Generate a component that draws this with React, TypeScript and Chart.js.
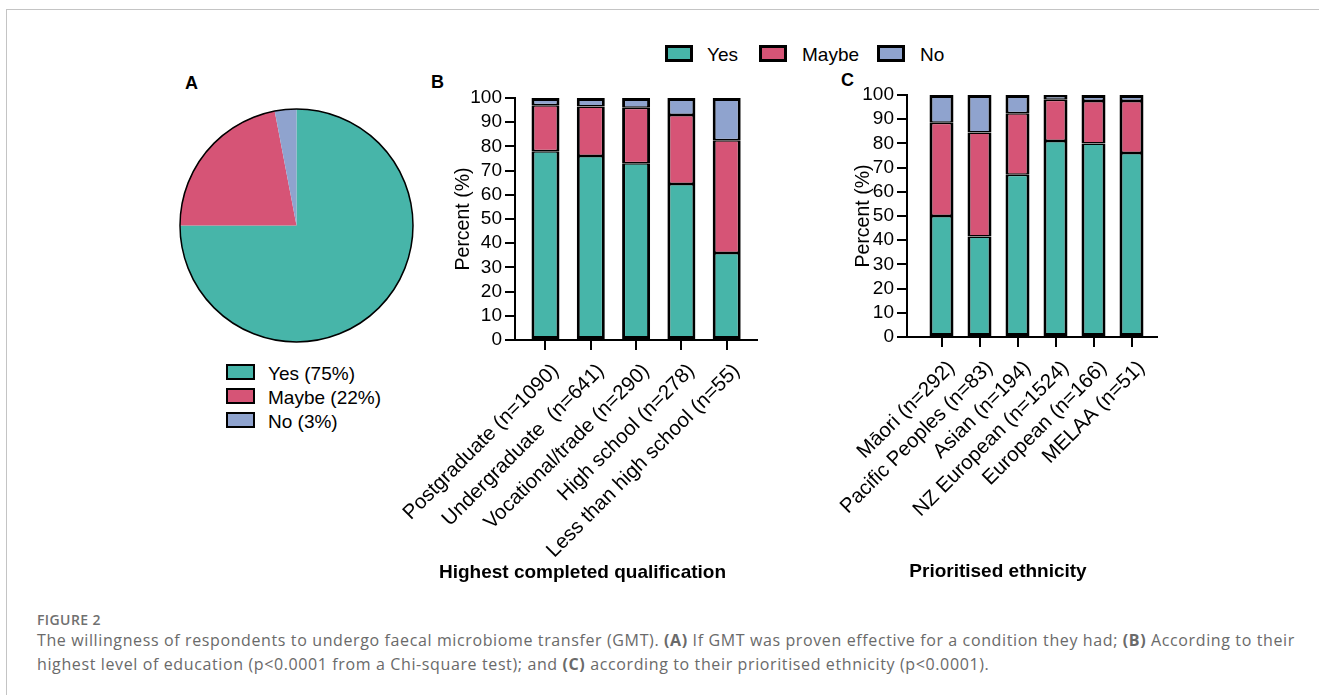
import React, { useEffect, useRef } from "react";
import { Chart, registerables } from "chart.js";

Chart.register(...registerables);

// ---------------- data ----------------
const seriesNames = ["Yes", "Maybe", "No"];

const overallValues = [75, 22, 3];
const overallLegend = ["Yes (75%)", "Maybe (22%)", "No (3%)"];

const educationLabels = [
  "Postgraduate (n=1090)",
  "Undergraduate  (n=641)",
  "Vocational/trade (n=290)",
  "High school (n=278)",
  "Less than high school (n=55)",
];
const educationYes = [78, 76, 73, 64.5, 36];
const educationMaybe = [19, 20.5, 23, 28.5, 46.5];
const educationNo = [3, 3.5, 4, 7, 17.5];

const ethnicityLabels = [
  "Māori (n=292)",
  "Pacific Peoples (n=83)",
  "Asian (n=194)",
  "NZ European (n=1524)",
  "European (n=166)",
  "MELAA (n=51)",
];
const ethnicityYes = [50, 41.5, 67, 81, 80, 76];
const ethnicityMaybe = [38.5, 43, 25.5, 17, 17.5, 21.5];
const ethnicityNo = [11.5, 15.5, 7.5, 2, 2.5, 2.5];

const percentMin = 0;
const percentMax = 100;
const percentStep = 10;

// ---------------- styles ----------------
const FONT = "'Liberation Sans', Arial, Helvetica, sans-serif";
const COLORS = ["#47B5A9", "#D65476", "#8FA3CE"];

Chart.defaults.font.family = FONT;
Chart.defaults.color = "#000";

type BarPanelProps = {
  labels: string[];
  yes: number[];
  maybe: number[];
  no: number[];
  title: string;
  left: number;
  top: number;
  width: number;
  height: number;
  padL: number;
  padR: number;
  padT: number;
  padB: number;
  yWidth: number;
  yTitlePad: number;
  xHeight: number;
  xMin: number;
  xMax: number;
  titlePadTop: number;
  barThickness: number;
};

function BarPanel(p: BarPanelProps) {
  const ref = useRef<HTMLCanvasElement | null>(null);
  useEffect(() => {
    if (!ref.current) return;
    const idx = p.labels.map((_, i) => i);
    const series = [p.yes, p.maybe, p.no];
    const borders = [
      { top: 1.5, bottom: 3, left: 3, right: 3 },
      { top: 1.5, bottom: 1.5, left: 3, right: 3 },
      { top: 3, bottom: 1.5, left: 3, right: 3 },
    ];
    const datasets = series.map((vals, s) => ({
      label: seriesNames[s],
      data: idx.map((i) => ({ x: i, y: vals[i] })),
      backgroundColor: COLORS[s],
      borderColor: "#000",
      borderWidth: borders[s],
      borderSkipped: false,
      barThickness: p.barThickness,
      inflateAmount: 0,
      clip: false,
    }));
    const axisGrid = {
      display: true,
      offset: false,
      drawOnChartArea: false,
      drawTicks: true,
      tickLength: 10,
      tickWidth: 2,
      tickColor: "#000",
      color: "#000",
      lineWidth: 2,
    };
    const chart = new Chart(ref.current, {
      type: "bar",
      data: { datasets } as any,
      options: {
        animation: false,
        responsive: false,
        maintainAspectRatio: false,
        events: [],
        layout: { padding: { left: p.padL, right: p.padR, top: p.padT, bottom: p.padB } },
        plugins: {
          legend: { display: false },
          tooltip: { enabled: false },
          title: {
            display: true,
            text: p.title,
            position: "bottom",
            color: "#000",
            font: { family: FONT, size: 19, weight: "bold", lineHeight: 1.2 },
            padding: { top: p.titlePadTop, bottom: 0 },
          },
        },
        scales: {
          x: {
            type: "linear",
            stacked: true,
            min: p.xMin,
            max: p.xMax,
            bounds: "data",
            offset: false,
            grid: axisGrid,
            border: { display: true, color: "#000", width: 2 },
            afterBuildTicks: (s: any) => {
              s.ticks = idx.map((i) => ({ value: i }));
            },
            ticks: {
              autoSkip: false,
              minRotation: 45,
              maxRotation: 45,
              padding: 9,
              labelOffset: 10,
              color: "#000",
              font: { family: FONT, size: 20.5, lineHeight: 1.2 },
              callback: (v: any) => {
                const n = Math.round(Number(v));
                return p.labels[n] !== undefined ? p.labels[n] : "";
              },
            },
            afterFit: (s: any) => {
              s.height = p.xHeight;
            },
          },
          y: {
            type: "linear",
            stacked: true,
            min: percentMin,
            max: percentMax,
            grid: axisGrid,
            border: { display: true, color: "#000", width: 2 },
            ticks: {
              stepSize: percentStep,
              autoSkip: false,
              maxTicksLimit: 20,
              padding: 3,
              color: "#000",
              font: { family: FONT, size: 19, lineHeight: 1 },
            },
            title: {
              display: true,
              text: "Percent (%)",
              color: "#000",
              font: { family: FONT, size: 19.5, lineHeight: 1.2 },
              padding: { top: p.yTitlePad, bottom: 0 },
            },
            afterFit: (s: any) => {
              s.width = p.yWidth;
            },
          },
        },
      } as any,
    });
    return () => chart.destroy();
  }, []);
  return (
    <canvas
      ref={ref}
      width={p.width}
      height={p.height}
      style={{ position: "absolute", left: p.left, top: p.top, width: p.width, height: p.height }}
    />
  );
}

const pieOutline = {
  id: "pieOutline",
  afterDatasetsDraw(chart: any) {
    const meta = chart.getDatasetMeta(0);
    const arc = meta.data[0];
    if (!arc) return;
    const ctx = chart.ctx;
    ctx.save();
    ctx.beginPath();
    ctx.arc(arc.x, arc.y, arc.outerRadius, 0, Math.PI * 2);
    ctx.lineWidth = 1.5;
    ctx.strokeStyle = "#000";
    ctx.stroke();
    ctx.restore();
  },
};

function PiePanel() {
  const ref = useRef<HTMLCanvasElement | null>(null);
  useEffect(() => {
    if (!ref.current) return;
    const chart = new Chart(ref.current, {
      type: "pie",
      data: {
        labels: seriesNames,
        datasets: [
          {
            data: overallValues,
            backgroundColor: COLORS,
            borderWidth: 0,
            hoverBorderWidth: 0,
            hoverOffset: 0,
            offset: 0,
          },
        ],
      },
      options: {
        animation: false,
        responsive: false,
        maintainAspectRatio: false,
        events: [],
        layout: { padding: 10 },
        plugins: { legend: { display: false }, tooltip: { enabled: false } },
      } as any,
      plugins: [pieOutline],
    });
    return () => chart.destroy();
  }, []);
  return (
    <canvas
      ref={ref}
      width={253}
      height={253}
      style={{ position: "absolute", left: 170, top: 99, width: 253, height: 253 }}
    />
  );
}

const textBase: React.CSSProperties = {
  position: "absolute",
  fontFamily: FONT,
  color: "#000",
  whiteSpace: "nowrap",
  lineHeight: 1,
};

function LegendBox({ x, y, w, h, bw, color }: { x: number; y: number; w: number; h: number; bw: number; color: string }) {
  return (
    <div
      style={{
        position: "absolute",
        left: x,
        top: y,
        width: w,
        height: h,
        boxSizing: "border-box",
        border: `${bw}px solid #000`,
        background: color,
      }}
    />
  );
}

export default function App() {
  const topLegendBoxes = [665, 759, 877];
  const topLegendText = [707, 802, 920];
  const pieRowsTop = [364, 388, 412];
  return (
    <div
      style={{
        position: "absolute",
        left: 0,
        top: 0,
        width: 1319,
        height: 695,
        background: "#fff",
        overflow: "hidden",
      }}
    >
      <div
        style={{
          position: "absolute",
          left: 6,
          top: 9,
          width: 1400,
          height: 800,
          borderLeft: "1px solid #c4c4c4",
          borderTop: "1px solid #c4c4c4",
        }}
      />

      {/* panel letters */}
      <div style={{ ...textBase, left: 185, top: 74, fontSize: 18, fontWeight: "bold" }}>A</div>
      <div style={{ ...textBase, left: 431, top: 72.5, fontSize: 18, fontWeight: "bold" }}>B</div>
      <div style={{ ...textBase, left: 841, top: 70.5, fontSize: 18, fontWeight: "bold" }}>C</div>

      {/* top legend */}
      {seriesNames.map((name, i) => (
        <React.Fragment key={name}>
          <LegendBox x={topLegendBoxes[i]} y={45} w={28} h={17} bw={3} color={COLORS[i]} />
          <div style={{ ...textBase, left: topLegendText[i], top: 44.5, fontSize: 19 }}>{name}</div>
        </React.Fragment>
      ))}

      {/* pie legend */}
      {overallLegend.map((name, i) => (
        <React.Fragment key={name}>
          <LegendBox x={226} y={pieRowsTop[i]} w={29} h={16} bw={2} color={COLORS[i]} />
          <div style={{ ...textBase, left: 268, top: pieRowsTop[i] - 0.5, fontSize: 19 }}>{name}</div>
        </React.Fragment>
      ))}

      <PiePanel />

      <BarPanel
        labels={educationLabels}
        yes={educationYes}
        maybe={educationMaybe}
        no={educationNo}
        title="Highest completed qualification"
        left={350}
        top={70}
        width={427}
        height={520}
        padL={58}
        padR={20}
        padT={28}
        padB={6.2}
        yWidth={107}
        yTitlePad={44.1}
        xHeight={219}
        xMin={-0.673}
        xMax={4.669}
        titlePadTop={2}
        barThickness={28}
      />
      <BarPanel
        labels={ethnicityLabels}
        yes={ethnicityYes}
        maybe={ethnicityMaybe}
        no={ethnicityNo}
        title="Prioritised ethnicity"
        left={800}
        top={67}
        width={377}
        height={523}
        padL={39}
        padR={20}
        padT={28}
        padB={6.6}
        yWidth={68}
        yTitlePad={12.6}
        xHeight={221.6}
        xMin={-0.908}
        xMax={5.671}
        titlePadTop={2}
        barThickness={24}
      />

      {/* caption */}
      <div
        style={{
          position: "absolute",
          left: 37,
          top: 613,
          fontFamily: "'Open Sans', sans-serif",
          fontSize: 14,
          letterSpacing: 0.4,
          fontWeight: 600,
          color: "#707070",
          whiteSpace: "nowrap",
          lineHeight: 1,
        }}
      >
        FIGURE 2
      </div>
      <div
        style={{
          position: "absolute",
          left: 37,
          top: 628,
          fontFamily: "'Open Sans', sans-serif",
          fontSize: 16,
          letterSpacing: 0.62,
          color: "#6a6a6a",
          whiteSpace: "nowrap",
          lineHeight: "24px",
        }}
      >
        The willingness of respondents to undergo faecal microbiome transfer (GMT). <b>(A)</b> If GMT was proven
        effective for a condition they had; <b>(B)</b> According to their
        <br />
        highest level of education (p&lt;0.0001 from a Chi-square test); and <b>(C)</b> according to their prioritised
        ethnicity (p&lt;0.0001).
      </div>
    </div>
  );
}
